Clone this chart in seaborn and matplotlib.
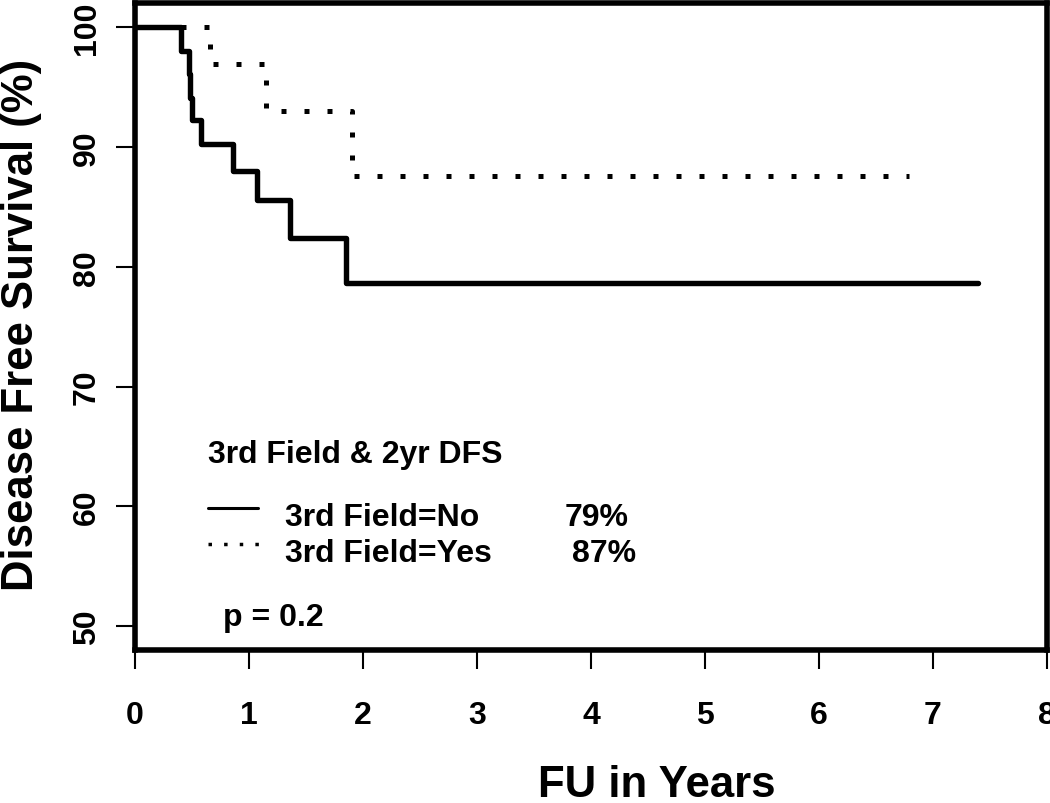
import numpy as np
import pandas as pd
import matplotlib
matplotlib.use("Agg")
import matplotlib.pyplot as plt
import seaborn as sns

sns.set_style("white")
plt.rcParams['font.family'] = ['Liberation Sans', 'DejaVu Sans']
plt.rcParams['font.weight'] = 'bold'
plt.rcParams['text.color'] = 'black'
plt.rcParams['axes.labelcolor'] = 'black'
plt.rcParams['xtick.color'] = 'black'
plt.rcParams['ytick.color'] = 'black'

# --- Kaplan-Meier steps (years, % DFS) ---
tempo_nao = [0, 0.40, 0.47, 0.48, 0.50, 0.58, 0.86, 1.07, 1.36, 1.85, 7.40]
surv_nao = [100, 98.0, 96.1, 94.1, 92.2, 90.2, 88.0, 85.6, 82.4, 78.6, 78.6]

tempo_sim = [0, 0.66, 1.15, 1.90, 6.79]
surv_sim = [100, 96.9, 93.0, 87.6, 87.6]

grupos = ['3rd Field=No', '3rd Field=Yes']
dfs_2anos = ['79%', '87%']
p_valor = 'p = 0.2'

x_ticks = [0, 1, 2, 3, 4, 5, 6, 7, 8]
y_ticks = [50, 60, 70, 80, 90, 100]

df = pd.concat([
    pd.DataFrame({'tempo': tempo_nao, 'surv': surv_nao, 'grupo': grupos[0]}),
    pd.DataFrame({'tempo': tempo_sim, 'surv': surv_sim, 'grupo': grupos[1]}),
], ignore_index=True)

lw = 3.9
pontilhado = (0, (1, 3.6))

fig = plt.figure(figsize=(10.5, 8.04), dpi=100)
ax = fig.add_axes([0.1286, 0.190, 0.8684, 0.805])

sns.lineplot(data=df[df.grupo == grupos[0]], x='tempo', y='surv', estimator=None,
             drawstyle='steps-post', color='black', linewidth=lw, ax=ax)
sns.lineplot(data=df[df.grupo == grupos[1]], x='tempo', y='surv', estimator=None,
             drawstyle='steps-post', color='black', linewidth=3.6,
             linestyle=pontilhado, dash_capstyle='butt', ax=ax)

ax.set_xlim(0, 8)
ax.set_ylim(48, 102)
ax.set_xticks(x_ticks)
ax.set_yticks(y_ticks)
ax.set_yticklabels([str(v) for v in y_ticks], rotation=90, va='center')
ax.tick_params(axis='both', direction='out', length=14, width=1.5, color='black',
               labelsize=23, bottom=True, left=True)
ax.tick_params(axis='x', pad=22)
ax.tick_params(axis='y', pad=10)
for s in ax.spines.values():
    s.set_linewidth(4)
    s.set_color('black')

ax.set_xlabel('FU in Years', fontsize=31.5, fontweight='bold')
ax.set_ylabel('Disease Free Survival (%)', fontsize=31.5, fontweight='bold')
ax.xaxis.set_label_coords(0.572, -0.176)
ax.yaxis.set_label_coords(-0.102, 0.504)

# --- legenda manual ---
fs = 23
ax.text(0.642, 63.67, '3rd Field & 2yr DFS', fontsize=fs, fontweight='bold', va='baseline')
ax.plot([0.642, 1.081], [59.89, 59.89], color='black', linewidth=2.2)
ax.plot([0.642, 1.09], [56.85, 56.85], color='black', linewidth=2.5,
        linestyle=(0, (1, 3.5)), dash_capstyle='butt')
ax.text(1.32, 58.43, grupos[0], fontsize=fs, fontweight='bold', va='baseline')
ax.text(1.32, 55.47, grupos[1], fontsize=fs, fontweight='bold', va='baseline')
ax.text(4.334, 58.43, dfs_2anos[0], fontsize=fs, fontweight='bold', va='baseline', ha='right')
ax.text(4.396, 55.47, dfs_2anos[1], fontsize=fs, fontweight='bold', va='baseline', ha='right')
ax.text(0.774, 50.14, p_valor, fontsize=fs, fontweight='bold', va='baseline')

fig.savefig('out.png', dpi=100)
